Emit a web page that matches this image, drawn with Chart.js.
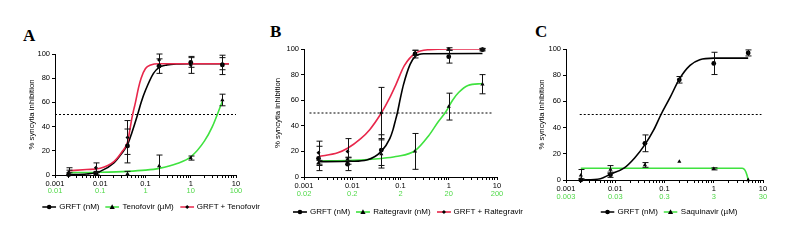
<!DOCTYPE html>
<html>
<head>
<meta charset="utf-8">
<script src="https://cdn.jsdelivr.net/npm/chart.js@4.4.0/dist/chart.umd.min.js"></script>
<style>
  body { margin: 0; width: 800px; height: 244px; background: #fff; position: relative; overflow: hidden;
         font-family: "Liberation Sans", Arial, sans-serif; }
  canvas { position: absolute; top: 0; }
  .letter { position: absolute; font: bold 17px "Liberation Serif", "Times New Roman", serif; line-height: 17px; }
  .legend { position: absolute; display: flex; align-items: center; font-size: 8px; line-height: 10px;
            white-space: nowrap; transform: translate(-50%, -50%); }
  .legend .item { display: flex; align-items: center; margin: 0 3px; }
  .legend svg { margin-right: 3px; }
</style>
</head>
<body>
<div class="letter" style="left:23px;top:27px">A</div>
<div class="letter" style="left:270px;top:23px">B</div>
<div class="letter" style="left:535px;top:23px">C</div>
<canvas id="chartA" width="265" height="244" style="left:0px"></canvas>
<canvas id="chartB" width="270" height="244" style="left:265px"></canvas>
<canvas id="chartC" width="265" height="244" style="left:535px"></canvas>
<div class="legend" id="legendA" style="left:151px;top:207px"></div>
<div class="legend" id="legendB" style="left:408px;top:212px"></div>
<div class="legend" id="legendC" style="left:669px;top:212px"></div>

<script>
// shared x axis (GRFT, nM)
const doses = [0.002, 0.008, 0.04, 0.2, 1, 5];
const doseTicks = [0.001, 0.01, 0.1, 1, 10];
const doseLabels = ["0.001", "0.01", "0.1", "1", "10"];

// ---- Panel A : GRFT + Tenofovir ----
const namesA = ["GRFT (nM)", "Tenofovir (\u00b5M)", "GRFT + Tenofovir"];
const tenofovirLabels = ["0.01", "0.1", "1", "10", "100"];
const grftA = [0.3, 1.5, 24, 90, 93, 91];
const grftA_sd = [5.7, 1.5, 14, 6, 4, 8];
const tenoA = [0.8, 1, 1, 7.5, 14, 62];
const tenoA_sd = [1, 1, 2, 9, 1.7, 4.8];
const comboA = [2, 6, 31, 95, 91, 92];
const comboA_sd = [2, 4, 14, 5, 7, 5];
// fitted curves
const grftA_fitX = [0.002, 0.005, 0.01, 0.02, 0.03, 0.04, 0.05, 0.067, 0.08, 0.1, 0.15, 0.2, 0.3, 0.5, 1, 7];
const grftA_fitY = [0.2, 0.8, 3, 10, 18, 25, 35, 50, 60, 70, 84, 89, 91, 91.8, 92, 92];
const tenoA_fitX = [0.002, 0.01, 0.04, 0.1, 0.2, 0.5, 1, 2, 3, 5];
const tenoA_fitY = [2, 2.3, 3, 4, 5.5, 9.5, 15, 28, 40, 61];
const comboA_fitX = [0.002, 0.005, 0.01, 0.02, 0.03, 0.04, 0.045, 0.05, 0.055, 0.06, 0.07, 0.08, 0.1, 0.13, 0.2, 7];
const comboA_fitY = [3.5, 4.5, 5.5, 11, 19, 27, 37, 47, 54, 60, 72, 80, 88, 91, 92, 92];
const refA_X = [0.001, 10];

// ---- Panel B : GRFT + Raltegravir ----
const namesB = ["GRFT (nM)", "Raltegravir (nM)", "GRFT + Raltegravir"];
const raltegravirLabels = ["0.02", "0.2", "2", "20", "200"];
const grftB = [14.5, 10, 21, 96, 94, 99.5];
const grftB_sd = [9.5, 5, 12, 3, 5, 1];
const raltB = [11, 14, 18, 20, 55, 72.5];
const raltB_sd = [2, 1.5, 11, 14, 10.5, 7.5];
const comboB = [19, 20, 50, 97, 100, 99.8];
const comboB_sd = [9, 10, 20, 2, 1, 0.5];
const grftB_fitX = [0.002, 0.01, 0.02, 0.04, 0.06, 0.07, 0.077, 0.086, 0.1, 0.115, 0.158, 0.2, 0.3, 5];
const grftB_fitY = [12, 12.3, 13.3, 20, 30, 37, 43, 50, 62, 72, 88, 94, 96.3, 96.5];
const raltB_fitX = [0.002, 0.01, 0.04, 0.08, 0.2, 0.38, 0.6, 0.87, 1.2, 1.6, 2.5, 5];
const raltB_fitY = [12.5, 13, 14.5, 16, 20.5, 32, 43, 51, 60, 66, 71.5, 73];
const comboB_fitX = [0.002, 0.005, 0.008, 0.015, 0.023, 0.04, 0.06, 0.08, 0.12, 0.2, 0.4, 1, 5];
const comboB_fitY = [16, 19, 22.5, 30, 37, 50, 62, 72, 87, 96.5, 99.5, 100, 100];
const refB_X = [0.0013, 7.8];

// ---- Panel C : GRFT / Saquinavir ----
const namesC = ["GRFT (nM)", "Saquinavir (\u00b5M)"];
const saquinavirLabels = ["0.003", "0.03", "0.3", "3", "30"];
const grftC = [0, 4, 28, 76.5, 89, 97];
const grftC_sd = [1, 2, 6.4, 2.5, 8.5, 2.3];
const saqC = [3.5, 8, 11.5, 14, 8.5, 0];
const saqC_sd = [4.5, 3, 1.8, 0, 0.8, 0];
const grftC_fitX = [0.002, 0.005, 0.008, 0.015, 0.025, 0.04, 0.06, 0.085, 0.13, 0.2, 0.33, 0.52, 1, 5];
const grftC_fitY = [0, 1, 4.5, 9, 17, 27, 38, 50, 63, 77, 87.5, 91.8, 93, 93];
const saqC_fitX = [0.002, 0.1, 1, 3.8, 4.3, 4.7, 5];
const saqC_fitY = [9, 9, 9, 9, 7.5, 4, 0];
const refC_X = [0.0019, 9.3];

const RED = "#e8274b";
const GREEN = "#3fe23f";
const GREEN_TEXT = "#52d94a";

const pts = (xs, ys) => xs.map((x, i) => ({ x: x, y: ys[i] }));

// vertical SD bars with caps, clipped at the x axis
const errorBars = {
  id: "errorBars",
  afterDatasetsDraw(chart) {
    const { ctx, chartArea, scales } = chart;
    ctx.save();
    ctx.beginPath();
    ctx.rect(chartArea.left, chartArea.top - 6, chartArea.width + 6, chartArea.height + 6);
    ctx.clip();
    ctx.strokeStyle = "#111";
    ctx.lineWidth = 1;
    chart.data.datasets.forEach(ds => {
      if (!ds.errors) return;
      ds.data.forEach((p, j) => {
        const e = ds.errors[j];
        if (!e) return;
        const px = Math.round(scales.x.getPixelForValue(p.x)) + 0.5;
        const top = scales.y.getPixelForValue(p.y + e);
        const bot = scales.y.getPixelForValue(p.y - e);
        ctx.beginPath();
        ctx.moveTo(px, top); ctx.lineTo(px, bot);
        ctx.moveTo(px - 3, top); ctx.lineTo(px + 3, top);
        ctx.moveTo(px - 3, bot); ctx.lineTo(px + 3, bot);
        ctx.stroke();
      });
    });
    ctx.restore();
  }
};

function pointSet(values, sd, style, radius) {
  return {
    data: pts(doses, values), errors: sd, showLine: false, clip: false,
    pointStyle: style, pointRadius: radius, backgroundColor: "#000", borderColor: "#000", borderWidth: 0
  };
}
function curve(xs, ys, color) {
  return {
    type: "line", data: pts(xs, ys), borderColor: color, borderWidth: 1.6,
    pointRadius: 0, cubicInterpolationMode: "monotone", fill: false
  };
}
function refLine(xs) {
  return {
    type: "line", data: pts(xs, [50, 50]), borderColor: "#000", borderWidth: 1,
    borderDash: [2, 2], pointRadius: 0, fill: false
  };
}

function makePanel(id, datasets, greenLabels, pad, yWidth) {
  const font = { family: "'Liberation Sans', Arial, sans-serif", size: 7.5 };
  return new Chart(document.getElementById(id), {
    type: "scatter",
    data: { datasets: datasets },
    options: {
      responsive: false,
      animation: false,
      layout: { padding: pad },
      plugins: { legend: { display: false }, tooltip: { enabled: false } },
      scales: {
        x: {
          type: "logarithmic", min: 0.001, max: 10, position: "bottom",
          border: { display: true, color: "#000", width: 1 },
          grid: { drawOnChartArea: false, drawTicks: true, tickLength: 3, color: "#000" },
          ticks: {
            autoSkip: false, maxRotation: 0, padding: 1, color: "#000", font: font,
            callback: v => { const k = doseTicks.indexOf(v); return k >= 0 ? doseLabels[k] : ""; }
          },
          afterBuildTicks: s => {
            const t = [];
            doseTicks.slice(0, -1).forEach(d => { for (let m = 1; m < 10; m++) t.push({ value: d * m }); });
            t.push({ value: doseTicks[doseTicks.length - 1] });
            s.ticks = t;
          },
          afterFit: s => { s.height = pad.xh; }
        },
        // second row of tick labels (drug concentration), green
        x2: {
          type: "logarithmic", min: 0.001, max: 10, position: "bottom",
          border: { display: false },
          grid: { display: false, drawTicks: false, tickLength: 0 },
          ticks: {
            autoSkip: false, maxRotation: 0, padding: 0, color: GREEN_TEXT, font: font,
            callback: (v, i) => greenLabels[i]
          },
          afterBuildTicks: s => { s.ticks = doseTicks.map(v => ({ value: v })); },
          afterFit: s => { s.height = 10; }
        },
        y: {
          min: 0, max: 100,
          border: { display: true, color: "#000", width: 1 },
          grid: { drawOnChartArea: false, drawTicks: true, tickLength: 3, color: "#000" },
          ticks: { stepSize: 20, padding: 2, color: "#000", font: font },
          title: {
            display: true, text: "% syncytia inhibition", color: "#000",
            font: { family: "'Liberation Sans', Arial, sans-serif", size: 7.8 },
            padding: { top: 0, bottom: 2 }
          },
          afterFit: s => { s.width = yWidth; }
        }
      }
    },
    plugins: [errorBars]
  });
}

makePanel("chartA", [
  pointSet(grftA, grftA_sd, "circle", 2.4),
  pointSet(tenoA, tenoA_sd, "triangle", 2.4),
  pointSet(comboA, comboA_sd, "rectRot", 2),
  curve(comboA_fitX, comboA_fitY, RED),
  curve(grftA_fitX, grftA_fitY, "#000"),
  curve(tenoA_fitX, tenoA_fitY, GREEN),
  refLine(refA_X)
], tenofovirLabels, { left: 27, right: 29, top: 54, bottom: 48, xh: 11 }, 28);

makePanel("chartB", [
  pointSet(grftB, grftB_sd, "circle", 2.4),
  pointSet(raltB, raltB_sd, "triangle", 2.4),
  pointSet(comboB, comboB_sd, "rectRot", 2),
  curve(comboB_fitX, comboB_fitY, RED),
  curve(grftB_fitX, grftB_fitY, "#000"),
  curve(raltB_fitX, raltB_fitY, GREEN),
  refLine(refB_X)
], raltegravirLabels, { left: 8, right: 38, top: 49, bottom: 45, xh: 12 }, 31);

makePanel("chartC", [
  pointSet(grftC, grftC_sd, "circle", 2.4),
  pointSet(saqC, saqC_sd, "triangle", 2.4),
  curve(grftC_fitX, grftC_fitY, "#000"),
  curve(saqC_fitX, saqC_fitY, GREEN),
  refLine(refC_X)
], saquinavirLabels, { left: 2, right: 37, top: 49, bottom: 42, xh: 12 }, 29);

// legends: line + marker, then the series name
const markers = {
  circle: '<circle cx="7" cy="4" r="2.3" fill="#000"/>',
  triangle: '<path d="M7 1.3 L9.6 6 L4.4 6 Z" fill="#000"/>',
  diamond: '<path d="M7 2 L9 4 L7 6 L5 4 Z" fill="#000"/>'
};
function legend(id, names, colors, shapes) {
  document.getElementById(id).innerHTML = names.map((n, i) =>
    '<span class="item"><svg width="14" height="8"><line x1="0" y1="4" x2="14" y2="4" stroke="' + colors[i] +
    '" stroke-width="1.6"/>' + markers[shapes[i]] + '</svg>' + n + '</span>').join("");
}
legend("legendA", namesA, ["#000", GREEN, RED], ["circle", "triangle", "diamond"]);
legend("legendB", namesB, ["#000", GREEN, RED], ["circle", "triangle", "diamond"]);
legend("legendC", namesC, ["#000", GREEN], ["circle", "triangle"]);
</script>
</body>
</html>
